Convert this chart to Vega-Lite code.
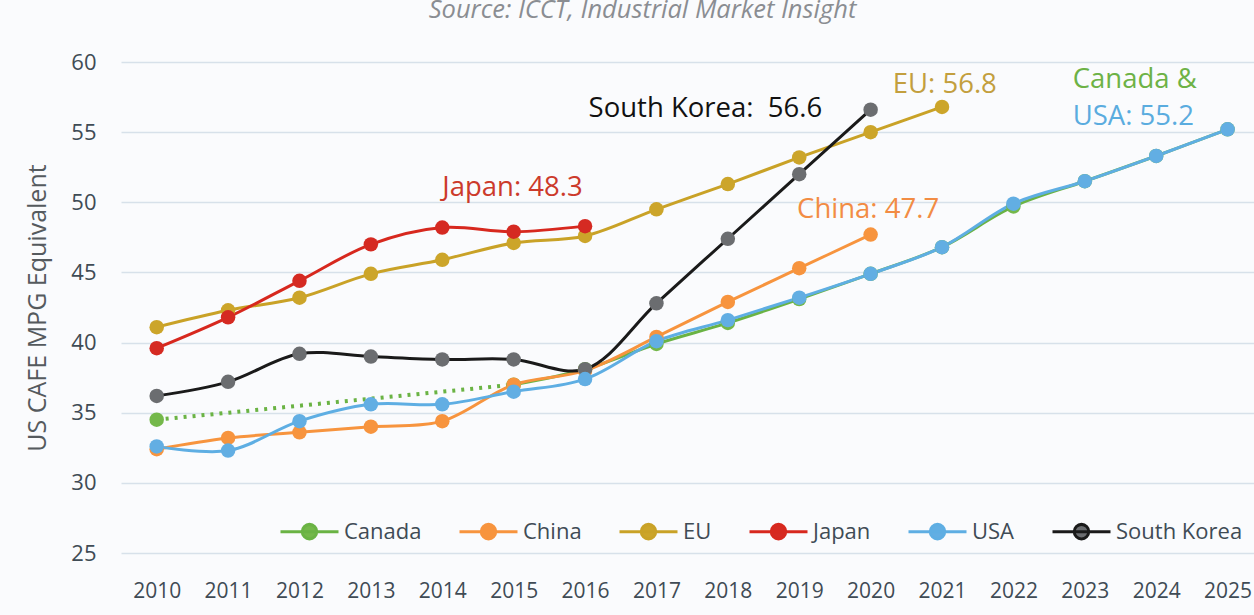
{
  "$schema": "https://vega.github.io/schema/vega-lite/v6.json",
  "autosize": {"type": "none"},
  "width": 1133,
  "height": 491,
  "padding": {"left": 121, "top": 62, "right": 0, "bottom": 62},
  "background": "#fafbfd",
  "config": {"view": {"stroke": null}, "font": "Open Sans"},
  "title": {
    "text": "Source: ICCT, Industrial Market Insight",
    "font": "Open Sans",
    "fontSize": 25.5,
    "fontStyle": "italic",
    "fontWeight": "normal",
    "color": "#8a8d92",
    "anchor": "middle",
    "dx": -45,
    "offset": 28
  },
  "datasets": {
    "main": [
      {"country": "Canada", "year": 2010, "value": 34.5},
      {"country": "Canada", "year": 2015, "value": 37.0},
      {"country": "Canada", "year": 2016, "value": 38.1},
      {"country": "Canada", "year": 2017, "value": 39.9},
      {"country": "Canada", "year": 2018, "value": 41.4},
      {"country": "Canada", "year": 2019, "value": 43.1},
      {"country": "Canada", "year": 2020, "value": 44.9},
      {"country": "Canada", "year": 2021, "value": 46.8},
      {"country": "Canada", "year": 2022, "value": 49.7},
      {"country": "Canada", "year": 2023, "value": 51.5},
      {"country": "Canada", "year": 2024, "value": 53.3},
      {"country": "Canada", "year": 2025, "value": 55.2},
      {"country": "China", "year": 2010, "value": 32.4},
      {"country": "China", "year": 2011, "value": 33.2},
      {"country": "China", "year": 2012, "value": 33.6},
      {"country": "China", "year": 2013, "value": 34.0},
      {"country": "China", "year": 2014, "value": 34.4},
      {"country": "China", "year": 2015, "value": 37.0},
      {"country": "China", "year": 2016, "value": 38.0},
      {"country": "China", "year": 2017, "value": 40.4},
      {"country": "China", "year": 2018, "value": 42.9},
      {"country": "China", "year": 2019, "value": 45.3},
      {"country": "China", "year": 2020, "value": 47.7},
      {"country": "EU", "year": 2010, "value": 41.1},
      {"country": "EU", "year": 2011, "value": 42.3},
      {"country": "EU", "year": 2012, "value": 43.2},
      {"country": "EU", "year": 2013, "value": 44.9},
      {"country": "EU", "year": 2014, "value": 45.9},
      {"country": "EU", "year": 2015, "value": 47.1},
      {"country": "EU", "year": 2016, "value": 47.6},
      {"country": "EU", "year": 2017, "value": 49.5},
      {"country": "EU", "year": 2018, "value": 51.3},
      {"country": "EU", "year": 2019, "value": 53.2},
      {"country": "EU", "year": 2020, "value": 55.0},
      {"country": "EU", "year": 2021, "value": 56.8},
      {"country": "Japan", "year": 2010, "value": 39.6},
      {"country": "Japan", "year": 2011, "value": 41.8},
      {"country": "Japan", "year": 2012, "value": 44.4},
      {"country": "Japan", "year": 2013, "value": 47.0},
      {"country": "Japan", "year": 2014, "value": 48.2},
      {"country": "Japan", "year": 2015, "value": 47.9},
      {"country": "Japan", "year": 2016, "value": 48.3},
      {"country": "South Korea", "year": 2010, "value": 36.2},
      {"country": "South Korea", "year": 2011, "value": 37.2},
      {"country": "South Korea", "year": 2012, "value": 39.2},
      {"country": "South Korea", "year": 2013, "value": 39.0},
      {"country": "South Korea", "year": 2014, "value": 38.8},
      {"country": "South Korea", "year": 2015, "value": 38.8},
      {"country": "South Korea", "year": 2016, "value": 38.1},
      {"country": "South Korea", "year": 2017, "value": 42.8},
      {"country": "South Korea", "year": 2018, "value": 47.4},
      {"country": "South Korea", "year": 2019, "value": 52.0},
      {"country": "South Korea", "year": 2020, "value": 56.6},
      {"country": "USA", "year": 2010, "value": 32.6},
      {"country": "USA", "year": 2011, "value": 32.3},
      {"country": "USA", "year": 2012, "value": 34.4},
      {"country": "USA", "year": 2013, "value": 35.6},
      {"country": "USA", "year": 2014, "value": 35.6},
      {"country": "USA", "year": 2015, "value": 36.5},
      {"country": "USA", "year": 2016, "value": 37.4},
      {"country": "USA", "year": 2017, "value": 40.1},
      {"country": "USA", "year": 2018, "value": 41.6},
      {"country": "USA", "year": 2019, "value": 43.2},
      {"country": "USA", "year": 2020, "value": 44.9},
      {"country": "USA", "year": 2021, "value": 46.8},
      {"country": "USA", "year": 2022, "value": 49.9},
      {"country": "USA", "year": 2023, "value": 51.5},
      {"country": "USA", "year": 2024, "value": 53.3},
      {"country": "USA", "year": 2025, "value": 55.2}
    ],
    "projection": [
      {"country": "Canada", "year": 2010, "value": 34.5},
      {"country": "Canada", "year": 2015, "value": 37.0}
    ],
    "labels": [
      {"country": "Japan", "year": 2014.0, "value": 51.0, "label": "Japan: 48.3"},
      {"country": "South Korea", "year": 2016.05, "value": 56.65, "label": "South Korea:\u00a0 56.6"},
      {"country": "EU", "year": 2020.31, "value": 58.36, "label": "EU: 56.8"},
      {"country": "China", "year": 2018.97, "value": 49.45, "label": "China: 47.7"},
      {"country": "Canada", "year": 2022.83, "value": 58.7, "label": "Canada &"},
      {"country": "USA", "year": 2022.83, "value": 56.08, "label": "USA: 55.2"}
    ]
  },
  "encoding": {
    "x": {
      "field": "year",
      "type": "quantitative",
      "scale": {"domain": [2009.5, 2025.37], "nice": false, "zero": false},
      "axis": {
        "title": null,
        "values": [2010, 2011, 2012, 2013, 2014, 2015, 2016, 2017, 2018, 2019, 2020, 2021, 2022, 2023, 2024, 2025],
        "format": "d",
        "grid": false,
        "domain": false,
        "ticks": false,
        "labelFontSize": 21,
        "labelColor": "#3f4b55",
        "labelFont": "Open Sans",
        "labelPadding": 27
      }
    },
    "y": {
      "field": "value",
      "type": "quantitative",
      "scale": {"domain": [25, 60], "nice": false, "zero": false},
      "axis": {
        "title": "US CAFE MPG Equivalent",
        "titleFontSize": 25,
        "titleFont": "Open Sans",
        "titleFontWeight": "normal",
        "titleColor": "#555a5e",
        "titlePadding": 20,
        "values": [25, 30, 35, 40, 45, 50, 55, 60],
        "grid": true,
        "gridColor": "#d7e1ea",
        "gridWidth": 1.5,
        "domain": false,
        "ticks": false,
        "labelFontSize": 22,
        "labelColor": "#3f4b55",
        "labelFont": "Open Sans",
        "labelPadding": 25
      }
    }
  },
  "layer": [
    {
      "data": {"name": "projection"},
      "mark": {"type": "line", "stroke": "#6ab344", "strokeWidth": 4, "strokeDash": [3, 6]},
      "encoding": {}
    },
    {
      "data": {"name": "main"},
      "transform": [{"filter": "!(datum.country == 'Canada' && datum.year == 2010)"}],
      "mark": {"type": "line", "strokeWidth": 3, "interpolate": "catmull-rom"},
      "encoding": {
        "stroke": {
          "field": "country",
          "type": "nominal",
          "scale": {
            "domain": ["Canada", "China", "EU", "Japan", "USA", "South Korea"],
            "range": ["#6ab344", "#f7943e", "#c9a227", "#d7281e", "#5eaee3", "#1a1a1a"]
          },
          "legend": {
            "title": null,
            "orient": "none",
            "direction": "horizontal",
            "legendX": 158,
            "legendY": 439,
            "padding": 0,
            "columnPadding": 31,
            "labelOffset": 4,
            "labelFontSize": 22,
            "labelFont": "Open Sans",
            "labelColor": "#3f4b55",
            "symbolType": "M-1,0H1M-0.25,0A0.25,0.25 0 1,0 0.25,0A0.25,0.25 0 1,0 -0.25,0Z",
            "symbolSize": 3364,
            "symbolStrokeWidth": 3,
            "symbolOpacity": 1,
            "encode": {
              "symbols": {
                "update": {
                  "fill": {"scale": "fill", "field": "value"},
                  "stroke": {"scale": "stroke", "field": "value"}
                }
              }
            }
          }
        },
        "order": {"field": "year", "type": "quantitative"}
      }
    },
    {
      "data": {"name": "main"},
      "mark": {"type": "circle", "size": 210, "opacity": 1},
      "encoding": {
        "fill": {
          "field": "country",
          "type": "nominal",
          "scale": {
            "domain": ["Canada", "China", "EU", "Japan", "USA", "South Korea"],
            "range": ["#74b84a", "#f7943e", "#cca52a", "#d52a22", "#62aee3", "#6b6d70"]
          },
          "legend": null
        }
      }
    },
    {
      "data": {"name": "labels"},
      "mark": {"type": "text", "align": "left", "baseline": "middle", "fontSize": 27.5, "font": "Open Sans"},
      "encoding": {
        "text": {"field": "label"},
        "color": {
          "field": "country",
          "type": "nominal",
          "scale": {
            "domain": ["Canada", "China", "EU", "Japan", "USA", "South Korea"],
            "range": ["#6db246", "#f28c44", "#c39f3e", "#cc3a2b", "#5aacdf", "#111111"]
          },
          "legend": null
        }
      }
    }
  ]
}
